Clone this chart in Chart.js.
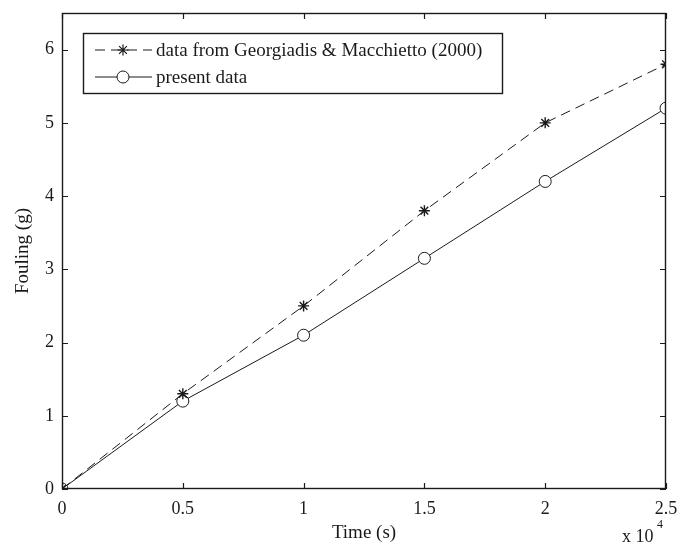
<!DOCTYPE html>
<html>
<head>
<meta charset="utf-8">
<script src="https://cdn.jsdelivr.net/npm/chart.js@4/dist/chart.umd.min.js"></script>
<style>
  html, body { margin: 0; padding: 0; background: #fff; }
  #wrap { width: 688px; height: 548px; }
</style>
</head>
<body>
<div id="wrap"><canvas id="c" width="688" height="548"></canvas></div>
<script>
// 시간 (s) 와 파울링 (g)
const timeValues = [0, 5000, 10000, 15000, 20000, 25000];
const georgiadisValues = [0, 1.3, 2.5, 3.8, 5.0, 5.8];
const presentValues = [0, 1.2, 2.1, 3.15, 4.2, 5.2];
const xTicks = [0, 5000, 10000, 15000, 20000, 25000];
const yTicks = [0, 1, 2, 3, 4, 5, 6];
const seriesLabels = ['data from Georgiadis & Macchietto (2000)', 'present data'];

const FONT = '"Liberation Serif", "Times New Roman", serif';
const INK = '#1a1a1a';

// 축 안쪽 눈금 + 범례 박스 + x 10^4 표기
const matlabDecor = {
    id: 'matlabDecor',
    afterDraw(chart) {
        const { ctx, chartArea: a, scales: { x, y } } = chart;
        ctx.save();
        ctx.strokeStyle = INK;
        ctx.lineWidth = 1.4;
        ctx.strokeRect(a.left + 0.5, a.top + 0.5, a.right - a.left - 1, a.bottom - a.top - 1);
        const tl = 6;
        ctx.lineWidth = 1.2;
        ctx.beginPath();
        xTicks.forEach(v => {
            const px = Math.round(x.getPixelForValue(v)) + 0.5;
            ctx.moveTo(px, a.bottom); ctx.lineTo(px, a.bottom - tl);
            ctx.moveTo(px, a.top); ctx.lineTo(px, a.top + tl);
        });
        yTicks.forEach(v => {
            const py = Math.round(y.getPixelForValue(v)) + 0.5;
            ctx.moveTo(a.left, py); ctx.lineTo(a.left + tl, py);
            ctx.moveTo(a.right, py); ctx.lineTo(a.right - tl, py);
        });
        ctx.stroke();

        // 범례
        const bx = a.left + 21, by = a.top + 20, bw = 419, bh = 60;
        ctx.fillStyle = '#fff';
        ctx.fillRect(bx, by, bw, bh);
        ctx.lineWidth = 1.4;
        ctx.strokeRect(bx + 0.5, by + 0.5, bw, bh);
        ctx.lineWidth = 1;
        ctx.font = '19px ' + FONT;
        ctx.textBaseline = 'middle';
        ctx.textAlign = 'left';
        chart.data.datasets.forEach((ds, i) => {
            const ry = by + 17 + i * 27;
            ctx.beginPath();
            ctx.setLineDash(ds.borderDash || []);
            ctx.moveTo(bx + 12, ry); ctx.lineTo(bx + 69, ry);
            ctx.stroke();
            ctx.setLineDash([]);
            drawMarker(ctx, ds.pointStyle, bx + 40, ry, ds.pointRadius);
            ctx.fillStyle = INK;
            ctx.fillText(ds.label, bx + 73, ry + 1);
        });

        ctx.fillStyle = INK;
        ctx.font = '18px ' + FONT;
        ctx.textAlign = 'left';
        ctx.textBaseline = 'alphabetic';
        ctx.fillText('x 10', a.right - 44, 542);
        ctx.font = '12px ' + FONT;
        ctx.fillText('4', a.right - 9, 528);
        ctx.restore();
    }
};

function drawMarker(ctx, style, cx, cy, r) {
    ctx.save();
    ctx.strokeStyle = INK;
    ctx.lineWidth = style === 'circle' ? 1 : 1.2;
    ctx.beginPath();
    if (style === 'circle') {
        ctx.fillStyle = '#fff';
        ctx.arc(cx, cy, r, 0, Math.PI * 2);
        ctx.fill();
        ctx.stroke();
    } else {
        for (let k = 0; k < 4; k++) {
            const ang = k * Math.PI / 4;
            ctx.moveTo(cx - r * Math.cos(ang), cy - r * Math.sin(ang));
            ctx.lineTo(cx + r * Math.cos(ang), cy + r * Math.sin(ang));
        }
        ctx.stroke();
    }
    ctx.restore();
}

new Chart(document.getElementById('c'), {
    type: 'line',
    data: {
        datasets: [
            {
                label: seriesLabels[0]
                ,data: timeValues.map((t, i) => ({ x: t, y: georgiadisValues[i] }))
                ,borderColor: INK
                ,borderWidth: 1
                ,borderDash: [10, 6]
                ,pointStyle: 'star'
                ,pointRadius: 5.5
                ,pointBorderColor: INK
                ,pointBackgroundColor: INK
                ,pointBorderWidth: 1.4
                ,tension: 0
            },
            {
                label: seriesLabels[1]
                ,data: timeValues.map((t, i) => ({ x: t, y: presentValues[i] }))
                ,borderColor: INK
                ,borderWidth: 1
                ,pointStyle: 'circle'
                ,pointRadius: 6
                ,pointBorderColor: INK
                ,pointBackgroundColor: '#fff'
                ,pointBorderWidth: 1
                ,tension: 0
            }
        ]
    },
    options: {
        responsive: false,
        animation: false,
        maintainAspectRatio: false,
        layout: { padding: { left: 0, top: 13, right: 22, bottom: 0 } },
        plugins: { legend: { display: false }, tooltip: { enabled: false } },
        scales: {
            x: {
                type: 'linear', min: 0, max: 25000,
                grid: { display: false }, border: { display: false },
                afterBuildTicks: s => { s.ticks = xTicks.map(v => ({ value: v })); },
                afterFit: s => { s.height = 59; },
                ticks: { color: INK, padding: 1, maxRotation: 0, font: { family: FONT, size: 18 },
                    callback: v => String(v / 10000) },
                title: { display: true, text: 'Time (s)', color: INK, padding: { top: 0 },
                    font: { family: FONT, size: 19 } }
            },
            y: {
                type: 'linear', min: 0, max: 6.5,
                grid: { display: false }, border: { display: false },
                afterBuildTicks: s => { s.ticks = yTicks.map(v => ({ value: v })); },
                afterFit: s => { s.width = 62; },
                ticks: { color: INK, padding: 0, font: { family: FONT, size: 18 } },
                title: { display: true, text: 'Fouling (g)', color: INK, padding: { top: 12, bottom: 0 },
                    font: { family: FONT, size: 19 } }
            }
        }
    },
    plugins: [matlabDecor]
});
</script>
</body>
</html>
